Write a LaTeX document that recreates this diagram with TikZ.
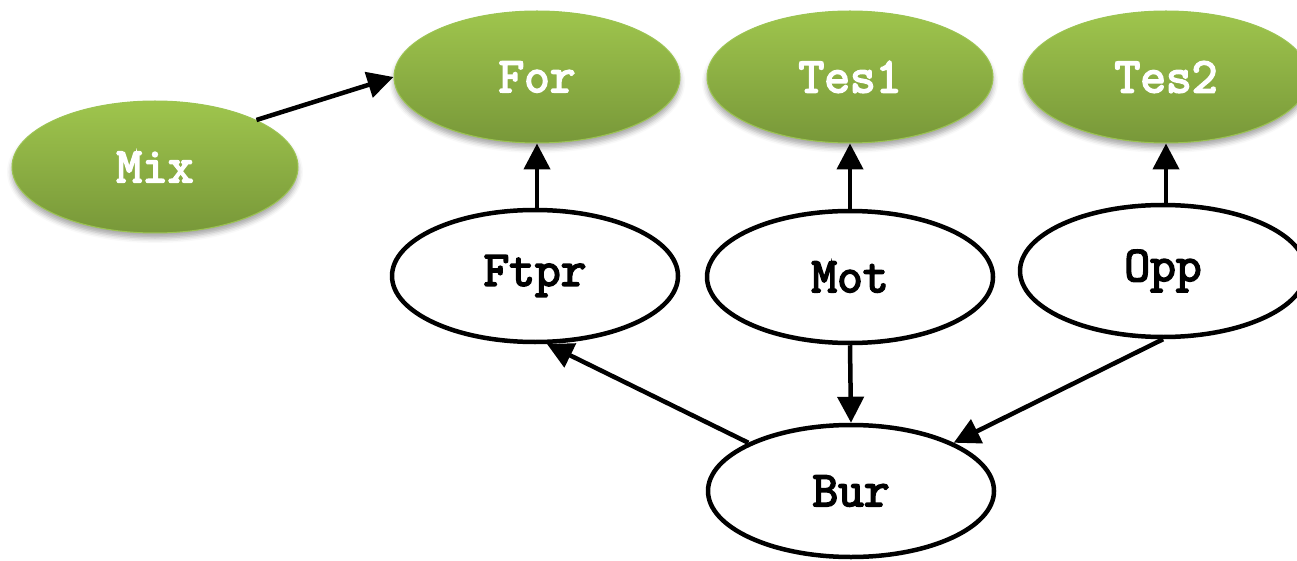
\documentclass[tikz,border=0pt]{standalone}
\usepackage{fontspec}
\newfontfamily\monob{Latin Modern Mono}[FakeBold=3.5]
\usetikzlibrary{shapes.geometric,arrows.meta,shadows.blur}
\definecolor{gtop}{HTML}{9FC54D}
\definecolor{gbot}{HTML}{789839}
\definecolor{gedge}{HTML}{9CC453}
\tikzset{
  base/.style={ellipse, minimum width=286pt, minimum height=132pt, inner sep=0pt,
    font=\monob\bfseries\fontsize{50}{56}\selectfont},
  greennode/.style={base, draw=gedge, line width=1pt, top color=gtop, bottom color=gbot,
    text=white, blur shadow={shadow xshift=0pt, shadow yshift=-5pt, shadow blur radius=5pt, shadow opacity=35}},
  whitenode/.style={base, draw=black, line width=4.5pt, fill=white, text=black},
  conn/.style={line width=4.5pt, -{Triangle[length=26pt,width=26pt]}},
}
\begin{document}
\begin{tikzpicture}[x=1pt,y=-1pt]
\useasboundingbox (0,0) rectangle (1297,561);
\clip (0,0) rectangle (1297,561);
\node[greennode] (Mix)  at (155,167) {Mix};
\node[greennode] (For)  at (537,77)  {For};
\node[greennode] (Tes1) at (850,77)  {Tes1};
\node[greennode] (Tes2) at (1166,77) {Tes2};
\node[whitenode] (Ftpr) at (535,276) {Ftpr};
\node[whitenode] (Mot)  at (850,277) {Mot};
\node[whitenode] (Opp)  at (1163,271) {Opp};
\node[whitenode] (Bur)  at (851,491) {Bur};
\draw[conn] (Mix.north east) -- (For.west);
\draw[conn] (Ftpr.north -| For.south) -- (For.south);
\draw[conn] (Mot.north) -- (Tes1.south);
\draw[conn] (Opp.north -| Tes2.south) -- (Tes2.south);
\draw[conn] (Bur.north west) -- (Ftpr.-80);
\draw[conn] (Mot.south) -- (Bur.north);
\draw[conn] (Opp.south) -- (Bur.north east);
\end{tikzpicture}
\end{document}
